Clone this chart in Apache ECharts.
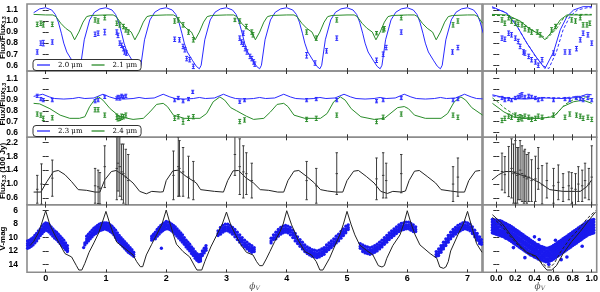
<!DOCTYPE html>
<html><head><meta charset="utf-8">
<script src="https://cdn.jsdelivr.net/npm/echarts@6/dist/echarts.min.js"></script>
<style>html,body{margin:0;padding:0;background:#fff}#c{width:600px;height:292px}</style>
</head><body><div id="c"></div>
<script>
// ---------- tick labels ----------
const xTicksLeft = [0,1,2,3,4,5,6,7];
const xTicksRight = [0,0.2,0.4,0.6,0.8,1.0];
const yTicksFlux = [0.6,0.7,0.8,0.9,1.0,1.1];
const yTicksF33 = [0.6,1.0,1.4,1.8,2.2];
const yTicksV = [6,8,10,12,14];
const legendTop = ['2.0 μm','2.1 μm'];
const legendMid = ['2.3 μm','2.4 μm'];

// ---------- panel 1: models 2.0 / 2.1 um (left, phase) ----------
const model20 = [[-0.2,1.075],[-0.1,1.11],
[0,1.12],[0.1,1.1],[0.16,1.06],[0.21,0.99],[0.26,0.89],[0.3,0.8],[0.35,0.72],[0.44,0.64],[0.5,0.59],[0.55,0.568],[0.58,0.6],[0.64,0.83],[0.73,1.01],[0.81,1.08],[0.9,1.11],
[1,1.12],[1.1,1.1],[1.16,1.06],[1.21,0.99],[1.26,0.89],[1.3,0.8],[1.35,0.72],[1.44,0.64],[1.5,0.59],[1.55,0.568],[1.58,0.6],[1.64,0.83],[1.73,1.01],[1.81,1.08],[1.9,1.11],
[2,1.12],[2.1,1.1],[2.16,1.06],[2.21,0.99],[2.26,0.89],[2.3,0.8],[2.35,0.72],[2.44,0.64],[2.5,0.59],[2.55,0.568],[2.58,0.6],[2.64,0.83],[2.73,1.01],[2.81,1.08],[2.9,1.11],
[3,1.12],[3.1,1.1],[3.16,1.06],[3.21,0.99],[3.26,0.89],[3.3,0.8],[3.35,0.72],[3.44,0.64],[3.5,0.59],[3.55,0.568],[3.58,0.6],[3.64,0.83],[3.73,1.01],[3.81,1.08],[3.9,1.11],
[4,1.12],[4.1,1.1],[4.16,1.06],[4.21,0.99],[4.26,0.89],[4.3,0.8],[4.35,0.72],[4.44,0.64],[4.5,0.59],[4.55,0.568],[4.58,0.6],[4.64,0.83],[4.73,1.01],[4.81,1.08],[4.9,1.11],
[5,1.12],[5.1,1.1],[5.16,1.06],[5.21,0.99],[5.26,0.89],[5.3,0.8],[5.35,0.72],[5.44,0.64],[5.5,0.59],[5.55,0.568],[5.58,0.6],[5.64,0.83],[5.73,1.01],[5.81,1.08],[5.9,1.11],
[6,1.12],[6.1,1.1],[6.16,1.06],[6.21,0.99],[6.26,0.89],[6.3,0.8],[6.35,0.72],[6.44,0.64],[6.5,0.59],[6.55,0.568],[6.58,0.6],[6.64,0.83],[6.73,1.01],[6.81,1.08],[6.9,1.11],
[7,1.12],[7.1,1.1],[7.16,1.06],[7.21,0.99],[7.26,0.89]];
const model21 = [[-0.2,1.06],
[0,1.055],[0.12,1.055],[0.17,1.04],[0.25,0.98],[0.33,0.935],[0.42,0.9],[0.48,0.83],[0.55,0.9],[0.62,0.99],[0.68,1.04],[0.75,1.05],
[1,1.055],[1.12,1.055],[1.17,1.04],[1.25,0.98],[1.33,0.935],[1.42,0.9],[1.48,0.83],[1.55,0.9],[1.62,0.99],[1.68,1.04],[1.75,1.05],
[2,1.055],[2.12,1.055],[2.17,1.04],[2.25,0.98],[2.33,0.935],[2.42,0.9],[2.48,0.83],[2.55,0.9],[2.62,0.99],[2.68,1.04],[2.75,1.05],
[3,1.055],[3.12,1.055],[3.17,1.04],[3.25,0.98],[3.33,0.935],[3.42,0.9],[3.48,0.83],[3.55,0.9],[3.62,0.99],[3.68,1.04],[3.75,1.05],
[4,1.055],[4.12,1.055],[4.17,1.04],[4.25,0.98],[4.33,0.935],[4.42,0.9],[4.48,0.83],[4.55,0.9],[4.62,0.99],[4.68,1.04],[4.75,1.05],
[5,1.055],[5.12,1.055],[5.17,1.04],[5.25,0.98],[5.33,0.935],[5.42,0.9],[5.48,0.83],[5.55,0.9],[5.62,0.99],[5.68,1.04],[5.75,1.05],
[6,1.055],[6.12,1.055],[6.17,1.04],[6.25,0.98],[6.33,0.935],[6.42,0.9],[6.48,0.83],[6.55,0.9],[6.62,0.99],[6.68,1.04],[6.75,1.05],
[7,1.055],[7.12,1.055],[7.17,1.04],[7.25,0.98]];
// observations [phase, ratio, error]
const obs20 = [[-0.14,0.72,0.02],[-0.08,0.8,0.02],[-0.04,0.8,0.025],[0.11,0.81,0.02],
[0.82,0.88,0.02],[0.87,0.89,0.02],[0.98,0.9,0.025],
[1.18,0.9,0.02],[1.2,0.87,0.02],[1.23,0.8,0.02],[1.26,0.78,0.02],[1.29,0.75,0.02],[1.31,0.72,0.02],[1.34,0.71,0.02],
[2.14,0.835,0.02],[2.22,0.83,0.02],[2.28,0.77,0.02],[2.31,0.74,0.02],[2.34,0.66,0.02],[2.39,0.65,0.02],[2.45,0.59,0.02],
[3.22,0.845,0.02],[3.25,0.81,0.02],[3.28,0.79,0.02],[3.28,0.89,0.02],[3.31,0.75,0.02],[3.34,0.72,0.02],[3.39,0.68,0.02],[3.42,0.66,0.02],[3.45,0.63,0.02],[3.47,0.61,0.02],
[4.33,0.69,0.025],[4.47,0.62,0.02],[4.66,0.73,0.02],[4.83,0.845,0.02],
[5.49,0.645,0.02],[5.6,0.7,0.02],[5.65,0.76,0.02],[5.9,0.9,0.02],
[6.75,0.72,0.02],[6.84,0.76,0.02]];
const obs21 = [[-0.14,0.97,0.02],[-0.08,0.98,0.02],[-0.04,0.965,0.02],[0.11,0.97,0.02],
[0.82,1.01,0.02],[0.87,1.0,0.02],[0.98,1.03,0.02],
[1.18,0.98,0.02],[1.23,0.965,0.02],[1.29,0.95,0.02],[1.33,0.92,0.02],[1.37,0.9,0.02],
[2.14,1.0,0.02],[2.2,1.01,0.02],[2.28,0.965,0.02],[2.37,0.9,0.02],[2.45,0.83,0.02],
[3.14,1.01,0.015],[3.22,1.0,0.02],[3.33,0.95,0.02],[3.42,0.9,0.02],[3.44,0.875,0.02],
[4.33,0.9,0.02],[4.49,0.845,0.02],[4.83,1.01,0.02],
[5.49,0.89,0.015],[5.6,0.92,0.02],[5.62,0.93,0.02],[5.9,1.03,0.02],
[6.76,0.965,0.02],[6.84,1.0,0.02]];
// folded (right)
const model20R = [[-0.045,1.13],[0.11,1.07],[0.22,0.95],[0.32,0.8],[0.43,0.66],[0.51,0.57],[0.6,0.72],[0.67,0.92],[0.74,1.04],[0.81,1.1],[0.91,1.13],[1.0,1.13]];
const model20Rd = [[-0.045,1.12],[0.1,1.08],[0.2,0.98],[0.3,0.83],[0.41,0.68],[0.5,0.59],[0.55,0.57],[0.63,0.72],[0.7,0.92],[0.77,1.04],[0.85,1.1],[0.95,1.12],[1.0,1.12]];
const model21R = [[-0.045,1.06],[0.11,1.055],[0.25,1.0],[0.35,0.93],[0.46,0.875],[0.51,0.83],[0.6,0.92],[0.67,1.01],[0.74,1.055],[1.0,1.055]];
const model21Rd = [[-0.045,1.05],[0.12,1.05],[0.26,0.99],[0.37,0.92],[0.47,0.87],[0.53,0.84],[0.63,0.93],[0.7,1.02],[0.77,1.06],[1.0,1.06]];
const obs20R = [[0.06,0.845,0.02],[0.09,0.835,0.02],[0.13,0.89,0.02],[0.16,0.875,0.02],[0.2,0.845,0.02],[0.23,0.815,0.02],[0.25,0.77,0.02],[0.285,0.72,0.02],[0.3,0.71,0.02],[0.34,0.68,0.02],[0.37,0.65,0.02],[0.41,0.63,0.02],[0.44,0.6,0.02],[0.48,0.65,0.02],[0.6,0.71,0.02],[0.72,0.72,0.02],[0.77,0.72,0.02],[0.84,0.75,0.02],[0.88,0.83,0.02],[0.91,0.89,0.02],[0.96,0.875,0.02],[1.0,0.8,0.02]];
const obs21R = [[0.06,1.01,0.02],[0.09,0.98,0.02],[0.13,1.03,0.02],[0.16,1.0,0.02],[0.2,0.98,0.02],[0.23,0.97,0.02],[0.27,0.965,0.02],[0.3,0.93,0.02],[0.34,0.92,0.02],[0.37,0.9,0.02],[0.43,0.9,0.02],[0.46,0.875,0.02],[0.58,0.92,0.02],[0.62,0.95,0.02],[0.79,1.01,0.02],[0.83,1.0,0.02],[0.88,1.03,0.02],[0.91,0.965,0.02],[0.95,0.965,0.02],[0.98,0.98,0.02]];

// ---------- panel 2: models 2.3 / 2.4 um ----------
const model23 = [[-0.2,0.935],
[-0.05,0.955],[0.06,0.93],[0.15,0.915],[0.3,0.91],[0.45,0.915],[0.55,0.925],[0.65,0.915],[0.8,0.92],
[0.95,0.955],[1.06,0.93],[1.15,0.915],[1.3,0.91],[1.45,0.915],[1.55,0.925],[1.65,0.915],[1.8,0.92],
[1.95,0.955],[2.06,0.93],[2.15,0.915],[2.3,0.91],[2.45,0.915],[2.55,0.925],[2.65,0.915],[2.8,0.92],
[2.95,0.955],[3.06,0.93],[3.15,0.915],[3.3,0.91],[3.45,0.915],[3.55,0.925],[3.65,0.915],[3.8,0.92],
[3.95,0.955],[4.06,0.93],[4.15,0.915],[4.3,0.91],[4.45,0.915],[4.55,0.925],[4.65,0.915],[4.8,0.92],
[4.95,0.955],[5.06,0.93],[5.15,0.915],[5.3,0.91],[5.45,0.915],[5.55,0.925],[5.65,0.915],[5.8,0.92],
[5.95,0.955],[6.06,0.93],[6.15,0.915],[6.3,0.91],[6.45,0.915],[6.55,0.925],[6.65,0.915],[6.8,0.92],
[6.95,0.955],[7.06,0.93],[7.15,0.915],[7.25,0.912]];
const model24 = [[-0.2,0.87],[-0.1,0.865],[0.07,0.82],[0.24,0.76],[0.4,0.73],[0.56,0.73],[0.65,0.745],[0.73,0.84],[0.82,0.91],[0.88,0.93],[0.95,0.9],
[1.07,0.82],[1.23,0.745],[1.45,0.72],[1.62,0.73],[1.73,0.79],[1.84,0.86],[1.95,0.87],[2.02,0.84],[2.12,0.76],[2.3,0.73],[2.56,0.73],[2.67,0.775],[2.78,0.885],[2.89,0.93],[2.97,0.9],
[3.07,0.83],[3.17,0.8],[3.33,0.75],[3.45,0.72],[3.62,0.73],[3.73,0.79],[3.84,0.86],[3.95,0.87],[4.02,0.84],[4.12,0.76],[4.3,0.73],[4.56,0.73],[4.67,0.775],[4.78,0.885],[4.89,0.93],[4.97,0.9],
[5.07,0.82],[5.23,0.745],[5.45,0.72],[5.62,0.73],[5.73,0.78],[5.84,0.83],[5.95,0.84],[6.02,0.82],[6.12,0.76],[6.3,0.73],[6.56,0.73],[6.67,0.775],[6.78,0.885],[6.89,0.93],[6.97,0.9],[7.07,0.83],[7.25,0.76]];
const obs23 = [[-0.14,0.94,0.015],[-0.08,0.91,0.015],[-0.04,0.9,0.015],[0.11,0.9,0.015],[0.82,0.89,0.015],[0.87,0.9,0.015],[0.98,0.93,0.015],
[1.18,0.916,0.015],[1.2,0.93,0.015],[1.23,0.92,0.02],[1.26,0.94,0.015],[1.29,0.93,0.015],[1.33,0.94,0.015],
[2.14,0.9,0.015],[2.2,0.92,0.015],[2.28,0.89,0.015],[2.37,0.91,0.015],[2.44,0.977,0.015],
[3.22,0.885,0.015],[3.3,0.9,0.015],[4.33,0.9,0.015],[4.49,0.91,0.015],[4.83,0.9,0.015],[5.49,0.89,0.015],[5.6,0.9,0.015],[5.9,0.92,0.015],[6.76,0.9,0.015],[6.84,0.91,0.015]];
const obs24 = [[-0.14,0.77,0.02],[-0.08,0.76,0.02],[-0.04,0.73,0.02],[0.11,0.735,0.02],[0.82,0.81,0.02],[0.87,0.81,0.02],[0.98,0.76,0.02],
[1.18,0.745,0.025],[1.2,0.73,0.025],[1.23,0.73,0.02],[1.26,0.745,0.025],[1.29,0.745,0.02],[1.33,0.76,0.02],
[2.14,0.73,0.02],[2.2,0.745,0.02],[2.28,0.7,0.025],[2.37,0.73,0.02],[2.45,0.745,0.02],
[3.22,0.7,0.02],[3.3,0.715,0.02],[4.33,0.72,0.02],[4.49,0.73,0.02],[4.83,0.76,0.02],[5.49,0.7,0.02],[5.6,0.74,0.02],[5.9,0.77,0.02],[6.76,0.76,0.02],[6.84,0.74,0.02]];
const model23R = [[-0.04,0.95],[0.05,0.93],[0.15,0.915],[0.3,0.91],[0.5,0.92],[0.7,0.915],[0.85,0.925],[0.95,0.955],[1.0,0.95]];
const model23Rd = [[-0.04,0.94],[0.1,0.92],[0.3,0.915],[0.5,0.925],[0.7,0.92],[0.85,0.935],[1.0,0.94]];
const model24R = [[-0.04,0.87],[0.08,0.79],[0.18,0.745],[0.28,0.73],[0.45,0.73],[0.6,0.745],[0.7,0.84],[0.81,0.885],[0.91,0.9],[1.0,0.87]];
const model24Rd = [[-0.04,0.92],[0.02,0.88],[0.08,0.83],[0.18,0.77],[0.3,0.735],[0.5,0.73],[0.62,0.76],[0.72,0.86],[0.84,0.92],[0.94,0.93],[1.0,0.91]];
const obs23R = [[0.06,0.92,0.015],[0.09,0.9,0.015],[0.13,0.91,0.015],[0.16,0.9,0.015],[0.2,0.92,0.015],[0.23,0.93,0.015],[0.25,0.94,0.02],[0.27,0.95,0.02],[0.3,0.93,0.015],[0.34,0.94,0.015],[0.37,0.93,0.015],[0.41,0.92,0.015],[0.44,0.9,0.015],[0.48,0.91,0.015],[0.6,0.9,0.015],[0.72,0.91,0.015],[0.77,0.9,0.015],[0.84,0.92,0.015],[0.88,0.91,0.015],[0.91,0.9,0.015],[0.96,0.92,0.015],[1.0,0.9,0.015]];
const obs24R = [[0.06,0.71,0.02],[0.09,0.73,0.02],[0.13,0.75,0.02],[0.16,0.74,0.02],[0.2,0.76,0.02],[0.23,0.72,0.02],[0.25,0.74,0.025],[0.27,0.73,0.025],[0.3,0.75,0.02],[0.34,0.74,0.02],[0.37,0.72,0.02],[0.41,0.73,0.02],[0.44,0.75,0.02],[0.48,0.74,0.02],[0.6,0.76,0.02],[0.72,0.74,0.02],[0.77,0.77,0.02],[0.84,0.76,0.02],[0.88,0.75,0.02],[0.91,0.73,0.02],[0.96,0.74,0.02],[1.0,0.72,0.02]];

// ---------- panel 3: flux 3.3 um (100 Jy) ----------
const model33 = [[-0.2,0.77],[-0.08,0.77],[0.02,1.07],[0.13,1.36],[0.21,1.39],[0.32,1.27],[0.43,1.07],[0.54,0.84],[0.68,0.82],[0.82,0.77],[0.9,0.77],
[0.98,1.12],[1.09,1.36],[1.17,1.39],[1.32,1.22],[1.45,1.03],[1.56,0.79],[1.67,0.72],[1.76,0.79],[1.9,0.77],[1.95,0.78],
[2.0,1.1],[2.11,1.38],[2.2,1.4],[2.33,1.22],[2.5,1.03],[2.57,0.84],[2.8,0.79],[2.95,0.77],
[3.02,1.1],[3.11,1.38],[3.2,1.39],[3.33,1.17],[3.45,1.03],[3.56,0.84],[3.7,0.82],[3.85,0.77],[3.95,0.77],
[4.02,1.1],[4.12,1.37],[4.2,1.39],[4.33,1.22],[4.46,1.03],[4.56,0.84],[4.68,0.8],[4.82,0.77],[4.93,0.77],
[5.0,1.1],[5.11,1.37],[5.19,1.39],[5.32,1.22],[5.45,1.03],[5.56,0.79],[5.67,0.73],[5.76,0.79],[5.9,0.77],[5.97,0.8],
[6.03,1.1],[6.12,1.37],[6.2,1.39],[6.33,1.22],[6.47,1.03],[6.56,0.84],[6.72,0.8],[6.85,0.77],[6.95,0.77],
[7.02,1.1],[7.13,1.37],[7.21,1.39]];
const obs33 = [[-0.14,0.85,0.4],[-0.07,1.0,0.58],[0.11,1.17,0.52],[0.82,0.95,0.5],[0.87,0.92,0.48],[0.9,0.88,0.45],[0.98,1.5,0.6],
[1.18,1.45,0.9],[1.2,1.6,0.8],[1.23,1.5,0.85],[1.26,1.35,0.8],[1.29,1.3,0.85],[1.33,1.2,0.8],[1.37,1.1,0.75],
[2.12,1.25,0.7],[2.2,1.5,0.85],[2.22,1.45,0.8],[2.28,1.35,0.7],[2.37,1.2,0.6],[2.45,1.1,0.55],
[3.14,1.85,0.6],[3.22,1.5,0.8],[3.28,1.35,0.75],[3.33,1.3,0.6],[3.42,1.1,0.5],
[4.33,1.1,0.55],[4.49,0.95,0.5],[4.83,1.3,0.6],[5.49,1.15,0.6],[5.6,1.25,0.65],[5.65,1.1,0.5],[5.9,1.3,0.55],[6.76,1.0,0.5],[6.84,1.2,0.55]];
const model33R = [[-0.045,1.12],[0.025,1.27],[0.09,1.36],[0.16,1.36],[0.25,1.27],[0.36,1.17],[0.46,1.03],[0.56,0.84],[0.7,0.79],[0.88,0.79],[0.95,0.93],[1.0,1.12]];
const obs33R = [[0.06,1.36,0.53],[0.09,1.27,0.52],[0.13,1.36,0.72],[0.16,1.45,0.85],[0.18,1.3,0.85],[0.2,1.35,0.9],[0.22,1.25,0.8],[0.23,1.3,0.75],[0.25,1.4,0.85],[0.27,1.3,0.8],[0.29,1.2,0.75],[0.3,1.25,0.75],[0.32,1.15,0.7],[0.34,1.2,0.7],[0.37,1.1,0.6],[0.41,1.15,0.65],[0.44,1.45,0.6],[0.48,0.98,0.55],[0.53,1.1,0.5],[0.6,0.95,0.5],[0.65,1.05,0.5],[0.7,0.9,0.4],[0.76,0.95,0.4],[0.79,0.88,0.45],[0.83,0.85,0.45],[0.86,1.0,0.5],[0.9,0.95,0.45],[0.93,1.1,0.5],[0.97,1.0,0.45],[1.0,1.2,0.9]];

// ---------- panel 4: V magnitude ----------
const modelV = [[-0.26,11.2],[-0.2,10.6],[-0.12,9.3],[-0.07,8.0],[0,6.0],[0.07,8.1],[0.15,9.6],[0.24,11.1],[0.32,12.4],[0.43,12.9],[0.51,14.2],[0.55,14.85],[0.6,14.85],[0.65,13.85],[0.72,12.2],[0.8,10.8],[0.88,9.3],[0.93,8.0],
[1,6.1],[1.07,8.1],[1.12,9.4],[1.18,10.7],[1.31,11.6],[1.45,12.6],[1.51,13.6],[1.57,14.35],[1.61,14.35],[1.67,12.6],[1.76,11.0],[1.84,9.6],[1.93,8.0],
[2,5.9],[2.07,8.1],[2.12,9.6],[2.17,11.0],[2.28,12.1],[2.39,12.9],[2.48,14.4],[2.51,14.85],[2.59,14.85],[2.64,13.6],[2.74,11.4],[2.84,9.6],[2.93,8.0],
[3,6.2],[3.07,8.1],[3.15,9.6],[3.24,11.1],[3.33,12.2],[3.44,12.6],[3.5,13.6],[3.55,14.2],[3.6,14.2],[3.66,13.2],[3.72,12.1],[3.8,10.6],[3.89,9.1],[3.94,8.0],
[4,6.0],[4.08,8.1],[4.19,10.4],[4.3,12.1],[4.41,12.6],[4.49,13.6],[4.55,14.85],[4.6,14.85],[4.63,14.6],[4.71,13.1],[4.8,11.2],[4.88,9.6],[4.94,8.0],
[5,6.1],[5.07,8.1],[5.13,9.6],[5.21,11.1],[5.32,11.9],[5.43,12.6],[5.52,14.2],[5.58,14.4],[5.62,14.2],[5.66,13.1],[5.76,11.2],[5.88,9.6],[5.94,8.0],
[6,6.0],[6.07,8.1],[6.13,9.6],[6.21,11.1],[6.38,12.4],[6.49,13.1],[6.54,14.4],[6.6,14.6],[6.64,14.4],[6.68,13.6],[6.72,12.0],[6.84,9.6],[6.93,8.0],
[7,6.1],[7.07,8.4],[7.15,10.9],[7.24,12.2]];
// rows: [phase, mag, mag, ...]
const obsVRows = [
[-0.3,10.5,10.9,11.2,11.6],[-0.27,10.4,10.8,11.1,11.5],[-0.24,10.2,10.6,11.0,11.3],[-0.21,10.0,10.4,10.7,11.1],[-0.18,9.7,10.1,10.5,10.8],[-0.15,9.4,9.8,10.2,10.5],[-0.12,9.0,9.4,9.8,10.1],[-0.09,8.7,9.0,9.4,9.7],[-0.06,8.3,8.7,9.0,9.4],[-0.03,8.0,8.4,8.7,9.1],[0,7.8,8.2,8.5,8.9],[0.03,7.9,8.3,8.6,9.0],[0.06,8.1,8.5,8.8,9.2],[0.09,8.4,8.8,9.1,9.5],[0.12,8.7,9.1,9.4,9.8],[0.15,9.0,9.4,9.7,10.1],[0.18,9.2,9.6,10.0,10.3],[0.21,9.5,9.9,10.2,10.6],[0.24,9.8,10.2,10.5,10.9],[0.27,10.1,10.5,10.8,11.2],[0.3,10.4,10.8,11.1,11.5],[0.33,10.8,11.2,11.5,11.8],[0.36,11.2,11.6,11.9,12.1],
[0.63,11.5],[0.65,10.8,11.1],[0.68,9.8,10.2,10.5,10.8],[0.71,9.5,9.9,10.2,10.5],[0.74,9.2,9.6,9.9,10.2],[0.77,8.9,9.3,9.6,9.9],[0.8,8.6,9.0,9.3,9.6],[0.83,8.4,8.8,9.1,9.4],[0.86,8.2,8.6,8.9,9.2],[0.89,8.0,8.4,8.7,9.0],[0.92,7.9,8.3,8.6,8.9],[0.95,7.8,8.2,8.5,8.8],[0.98,7.8,8.1,8.4,8.7],[1.01,7.8,8.2,8.5,8.8],[1.04,7.9,8.3,8.6,8.9],[1.07,8.1,8.5,8.8,9.1],[1.1,8.3,8.7,9.0,9.3],[1.13,8.6,9.0,9.3,9.6],[1.16,8.9,9.3,9.7,10.0],[1.19,9.3,9.7,10.1,10.4],[1.22,9.7,10.1,10.4,10.7],[1.25,10.0,10.4,10.7,11.0],[1.28,10.3,10.7,11.0,11.3],[1.31,10.6,11.0,11.3,11.6],[1.34,10.9,11.3,11.6,11.9],[1.37,11.2,11.6,11.9,12.2],[1.4,11.5,11.9,12.1,12.4],[1.43,11.8,12.1,12.3,12.6],[1.46,12.2,12.5,12.8],
[1.76,9.8,10.1,10.4],[1.79,9.5,9.8,10.2],[1.82,9.2,9.6,9.9,10.2],[1.85,8.8,9.2,9.5,9.8],[1.88,8.5,8.9,9.2,9.5],[1.91,8.2,8.6,8.9,9.2],[1.92,11.6],[1.94,8.0,8.4,8.7,9.0],[1.97,7.8,8.2,8.5,8.8],[2.0,7.6,8.0,8.3,8.7],[2.03,7.7,8.1,8.4,8.7],[2.06,7.8,8.2,8.5,8.8],[2.09,8.0,8.4,8.7,9.0],[2.12,8.2,8.6,8.9,9.2],[2.15,8.4,8.8,9.1,9.5],[2.18,8.7,9.1,9.4,9.8],[2.21,9.0,9.4,9.7,10.1],[2.24,9.3,9.7,10.0,10.4],[2.27,9.6,10.0,10.3,10.7],[2.3,10.0,10.4,10.7,11.0],[2.33,10.4,10.8,11.1,11.4],[2.36,10.7,11.1,11.4,11.7],[2.39,11.0,11.4,11.7,12.0],[2.42,11.4,11.8,12.1,12.4],[2.45,11.7,12.1,12.4,12.7],[2.48,12.1,12.5,12.8,13.1],[2.51,12.4,12.8,13.1,13.4],[2.54,12.6,13.0,13.3,13.6],[2.57,12.5,12.9,13.2,13.5],[2.6,12.0,12.4,12.7],[2.63,11.6,12.0,12.3],[2.66,11.2,11.6,11.9],
[2.86,9.0,9.4,9.7],[2.9,8.5,8.9,9.2,9.5],[2.94,8.2,8.6,8.9,9.2],[2.98,8.0,8.4,8.7,9.0],[3.02,8.0,8.4,8.7,9.0],[3.06,8.2,8.6,8.9,9.2],[3.1,8.5,8.9,9.2,9.5],[3.14,8.8,9.2,9.5,9.9],[3.18,9.2,9.6,9.9,10.3],[3.22,9.6,10.0,10.3,10.7],[3.26,10.0,10.4,10.7,11.1],[3.3,10.4,10.8,11.1,11.4],[3.34,10.7,11.1,11.4,11.7],[3.38,11.0,11.4,11.7,12.0],[3.42,11.2,11.6,11.9,12.2],[3.46,11.5,11.8,12.1],
[3.74,10.1,10.5,10.8],[3.78,9.6,10.0,10.3],[3.82,9.2,9.6,9.9,10.2],[3.86,8.8,9.2,9.5,9.8],[3.9,8.5,8.9,9.2,9.5],[3.94,8.3,8.7,9.0,9.3],[3.98,8.2,8.6,8.9,9.2],[4.02,8.3,8.7,9.0,9.3],[4.06,8.5,8.9,9.2,9.6],[4.1,8.9,9.3,9.6,10.0],[4.14,9.4,9.8,10.1,10.5],[4.18,9.9,10.3,10.6,10.9],[4.22,10.3,10.7,11.0,11.3],[4.26,10.7,11.1,11.4,11.7],[4.3,11.1,11.5,11.8,12.1],[4.34,11.4,11.8,12.1,12.4],[4.38,11.6,12.0,12.3,12.6],[4.42,11.8,12.2,12.5,12.8],[4.46,11.9,12.3,12.6,12.9],[4.5,12.0,12.4,12.7,13.0],[4.54,11.9,12.3,12.6,12.9],[4.58,11.7,12.1,12.4,12.7],[4.62,11.5,11.9,12.2,12.5],[4.66,11.1,11.5,11.8,12.1],[4.7,10.8,11.2,11.5,11.8],[4.74,10.5,10.9,11.2,11.5],[4.78,10.2,10.6,10.9,11.2],[4.82,9.8,10.2,10.5,10.8],[4.86,9.5,9.9,10.2,10.5],[4.9,9.1,9.5,9.8,10.1],[4.94,8.7,9.1,9.4,9.7],[4.98,8.3,8.7,9.0,9.3],[5.02,8.1,8.5,8.8],
[5.22,10.9,11.3,11.6],[5.26,11.1,11.5,11.8,12.1],[5.3,11.3,11.7,12.0,12.3],[5.34,11.4,11.8,12.1,12.4],[5.38,11.5,11.9,12.2,12.5],[5.42,11.4,11.8,12.1,12.4],[5.46,11.2,11.6,11.9,12.2],[5.5,11.0,11.4,11.7,12.0],[5.54,10.7,11.1,11.4,11.7],[5.58,10.4,10.8,11.1,11.4],[5.62,10.0,10.4,10.7,11.0],[5.66,9.7,10.1,10.4,10.7],[5.7,9.3,9.7,10.0,10.3],[5.74,9.0,9.4,9.7,10.0],[5.78,8.7,9.1,9.4,9.7],[5.82,8.4,8.8,9.1,9.4],[5.86,8.1,8.5,8.8,9.1],[5.9,7.9,8.3,8.6,8.9],[5.94,7.8,8.2,8.5,8.8],[5.98,7.7,8.1,8.4,8.7],[6.02,7.7,8.1,8.4,8.7],[6.06,7.9,8.3,8.6,8.9],[6.1,8.1,8.5,8.8,9.1],[6.14,8.4,8.8,9.1],
[6.48,12.1,12.5,12.8],[6.52,11.7,12.1,12.4,12.7],[6.56,11.2,11.6,11.9,12.2],[6.6,10.7,11.1,11.4,11.7],[6.64,10.2,10.6,10.9,11.2],[6.68,9.7,10.1,10.4,10.7],[6.72,9.2,9.6,9.9,10.2],[6.76,8.8,9.2,9.5,9.8],[6.8,8.5,8.9,9.2,9.5],[6.84,8.2,8.6,8.9,9.2],[6.88,8.0,8.4,8.7,9.0],[6.92,7.8,8.2,8.5,8.8],[6.96,7.7,8.1,8.4,8.7],[7.0,7.8,8.2,8.5,8.8],[7.04,8.0,8.4,8.7,9.0],[7.08,8.4,8.8,9.1,9.4],[7.12,8.9,9.3,9.6,9.9],[7.16,9.4,9.8,10.1,10.4],[7.2,9.9,10.3,10.6,10.9],[7.23,10.3,10.7,11.0]];
const modelVR = [[-0.04,6.6],[0.06,7.9],[0.15,9.6],[0.24,11.1],[0.32,12.2],[0.42,12.8],[0.49,14.2],[0.53,14.85],[0.58,14.85],[0.63,14.2],[0.7,12.4],[0.79,10.6],[0.88,9.1],[0.96,7.6],[1.04,6.2]];
const modelVRd = [[-0.04,7.0],[0.06,8.3],[0.15,9.9],[0.24,11.3],[0.32,12.3],[0.42,12.9],[0.48,13.8],[0.53,14.4],[0.57,14.4],[0.61,13.8],[0.68,12.0],[0.77,10.2],[0.86,8.8],[0.95,7.2],[1.04,6.0]];
const obsVRRows = [
[-0.04,7.3,7.7,8.1,8.5,8.9,9.3],[-0.02,7.4,7.8,8.2,8.6,9.0,9.4],[0.0,7.4,7.8,8.3,8.7,9.1,9.5],[0.02,7.5,7.9,8.4,8.8,9.2,9.6],[0.04,7.5,8.0,8.4,8.9,9.3,9.7],[0.06,7.6,8.1,8.5,9.0,9.4,9.8],[0.08,7.8,8.2,8.7,9.1,9.5,9.9],[0.1,7.9,8.4,8.8,9.3,9.7,10.1],[0.12,8.1,8.5,9.0,9.4,9.8,10.2],[0.14,8.2,8.7,9.1,9.6,10.0,10.4],[0.16,8.4,8.8,9.3,9.7,10.2,10.6],[0.18,8.6,9.0,9.5,9.9,10.4,10.8],[0.2,8.8,9.2,9.7,10.1,10.6,11.0],[0.22,9.0,9.4,9.9,10.3,10.8,11.2],[0.24,9.2,9.6,10.1,10.5,11.0,11.4],[0.26,9.4,9.8,10.3,10.7,11.2,11.6],[0.28,9.6,10.0,10.5,10.9,11.4,11.8],[0.3,9.8,10.2,10.7,11.1,11.6,12.0],[0.32,10.0,10.4,10.9,11.3,11.8,12.2],[0.34,10.2,10.6,11.1,11.5,12.0,12.4],[0.36,10.4,10.8,11.3,11.7,12.2,12.6],[0.38,10.6,11.0,11.5,11.9,12.4,12.7],[0.4,10.8,11.2,11.7,12.1,12.5,12.9],[0.42,11.0,11.4,11.8,12.2,12.7,13.0],[0.44,11.1,11.5,12.0,12.4,12.8,13.2],[0.46,11.3,11.7,12.1,12.5,12.9,13.3],[0.48,11.4,11.8,12.2,12.6,13.0,13.4],[0.5,11.5,11.9,12.3,12.7,13.1,13.5],[0.52,11.6,12.0,12.4,12.8,13.2,13.6],[0.54,11.6,12.0,12.4,12.8,13.2,13.6],[0.56,11.5,11.9,12.3,12.7,13.1,13.5],[0.58,11.4,11.8,12.2,12.6,13.0,13.4],[0.6,11.2,11.6,12.0,12.4,12.8,13.2],[0.62,11.0,11.4,11.8,12.2,12.6,13.0],[0.64,10.8,11.2,11.6,12.0,12.4,12.8],[0.66,10.6,11.0,11.4,11.8,12.2,12.6],[0.68,10.4,10.8,11.2,11.6,12.0,12.4],[0.7,10.2,10.6,11.0,11.4,11.8,12.2],[0.72,10.0,10.4,10.8,11.2,11.6,12.0],[0.74,9.8,10.2,10.6,11.0,11.4,11.8],[0.76,9.6,10.0,10.4,10.8,11.2,11.6],[0.78,9.4,9.8,10.2,10.6,11.0,11.4],[0.8,9.2,9.6,10.0,10.4,10.8,11.2],[0.82,9.0,9.4,9.8,10.2,10.6,11.0],[0.84,8.8,9.2,9.6,10.0,10.4,10.8],[0.86,8.6,9.0,9.4,9.8,10.2,10.6],[0.88,8.4,8.8,9.2,9.6,10.0,10.4],[0.9,8.2,8.6,9.0,9.4,9.8,10.2],[0.92,8.0,8.4,8.8,9.2,9.6,10.0],[0.94,7.8,8.2,8.6,9.0,9.4,9.8],[0.96,7.6,8.0,8.4,8.8,9.2,9.6],[0.98,7.5,7.9,8.3,8.7,9.1,9.5],[1.0,7.4,7.8,8.2,8.6,9.0,9.4],[1.02,7.3,7.7,8.1,8.5,8.9,9.3],
[0.3,13.0],[0.45,10.3],[0.62,10.4],[0.74,12.9],[0.9,11.3],[0.18,11.5],[0.55,14.0],[0.68,13.3],[0.4,9.9]];

// ---------- build ----------
const FONT = 'Liberation Sans';
const C_BLUE = '#2a2aff', C_GREEN = '#2a8c2a', C_BLK = '#222', C_PT = '#1a1aee';
const colL = {left:27, width:455, min:-0.31, max:7.24, ticks:xTicksLeft};
const colR = {left:483, width:113.7, min:-0.139, max:1.052, ticks:xTicksRight};
const rows = [
  {top:4, h:67, min:0.548, max:1.154, ticks:yTicksFlux, fmt:v=>v.toFixed(1), name:'{t|Flux/Flux}{s|3.3}'},
  {top:71, h:66.3, min:0.553, max:1.172, ticks:yTicksFlux, fmt:v=>v.toFixed(1), name:'{t|Flux/Flux}{s|3.3}'},
  {top:137.3, h:67.4, min:0.407, max:2.344, ticks:yTicksF33, fmt:v=>v.toFixed(1), name:'{t|Flux}{s|3.3}{t| (100 Jy)}'},
  {top:204.7, h:67.6, min:5.1, max:15.19, ticks:yTicksV, fmt:v=>String(v), name:'{t|V-mag}', inverse:true}
];
const grids=[], xAxes=[], yAxes=[], xTop=[], yRight=[];
const tickStyle = {show:true, inside:true, length:3, lineStyle:{color:'#333', width:1}};
rows.forEach((r,ri)=>{
  [colL,colR].forEach((c,ci)=>{
    const gi = ri*2+ci;
    grids.push({left:c.left, top:r.top, width:c.width, height:r.h, containLabel:false, outerBoundsMode:'none',
      show:true, borderColor:'#8c8c8c', borderWidth:1.6, backgroundColor:'rgba(0,0,0,0)'});
    const bottomRow = ri===3;
    xAxes.push({type:'value', gridIndex:gi, min:c.min, max:c.max, position:'bottom',
      axisLine:{show:false}, splitLine:{show:false},
      axisTick:Object.assign({customValues:c.ticks}, tickStyle),
      axisLabel:{show:bottomRow, customValues:c.ticks, margin:2, fontFamily:FONT, fontWeight:'bold', fontSize:9, color:'#000',
        formatter: ci===0 ? (v=>String(Math.round(v))) : (v=>v.toFixed(1))},
      name: bottomRow ? '{p|ϕ}{v|V}' : '', nameLocation:'middle', nameGap:9, nameMoveOverlap:false,
      nameTextStyle:{rich:{p:{fontSize:9, fontFamily:'DejaVu Serif', fontStyle:'italic', color:'#555'}, v:{fontSize:6, fontFamily:'DejaVu Serif', fontStyle:'italic', color:'#555', verticalAlign:'bottom', padding:[4,0,0,0]}}}
    });
    xTop.push({type:'value', gridIndex:gi, min:c.min, max:c.max, position:'top',
      axisLine:{show:false}, splitLine:{show:false}, axisLabel:{show:false},
      axisTick:Object.assign({customValues:c.ticks}, tickStyle)});
    yAxes.push({type:'value', gridIndex:gi, min:r.min, max:r.max, inverse:!!r.inverse, position:'left',
      axisLine:{show:false}, splitLine:{show:false},
      axisTick:Object.assign({customValues:r.ticks}, tickStyle),
      axisLabel:{show:ci===0, customValues:r.ticks, margin:9, formatter:r.fmt, fontFamily:FONT, fontWeight:'bold', fontSize:8.5, color:'#000'},
      name: ci===0 ? r.name : '', nameLocation:'middle', nameGap:19.5, nameMoveOverlap:false,
      nameTextStyle:{rich:{t:{fontSize:8, fontFamily:FONT, fontWeight:'bold', color:'#000', lineHeight:9},
                           s:{fontSize:5.5, fontFamily:FONT, fontWeight:'bold', color:'#000', verticalAlign:'bottom', lineHeight:9, padding:[3,0,0,0]}}}
    });
    yRight.push({type:'value', gridIndex:gi, min:r.min, max:r.max, inverse:!!r.inverse, position:'right',
      axisLine:{show:false}, splitLine:{show:false}, axisLabel:{show:false},
      axisTick:Object.assign({customValues:r.ticks}, tickStyle)});
  });
});

function line(name, data, color, gi, dashed, w) {
  return {type:'line', name, data, xAxisIndex:gi, yAxisIndex:gi, showSymbol:false, symbol:'none', clip:true, z:2,
    lineStyle:{color, width:w||1, type: dashed ? [3,2] : 'solid'}, itemStyle:{color}, silent:true};
}
function errs(name, data, color, gi, w, cap) {
  return {type:'custom', name, data, xAxisIndex:gi, yAxisIndex:gi, clip:true, z:3, silent:true,
    encode:{x:0, y:1},
    renderItem:function(params, api){
      const x=api.value(0), y=api.value(1), e=api.value(2);
      const a=api.coord([x,y-e]), b=api.coord([x,y+e]), c=api.coord([x,y]);
      const st={stroke:color, lineWidth:w||1};
      const k = cap==null ? 1.5 : cap;
      return {type:'group', children:[
        {type:'line', shape:{x1:a[0],y1:a[1],x2:b[0],y2:b[1]}, style:st},
        {type:'line', shape:{x1:a[0]-k,y1:a[1],x2:a[0]+k,y2:a[1]}, style:st},
        {type:'line', shape:{x1:b[0]-k,y1:b[1],x2:b[0]+k,y2:b[1]}, style:st},
        {type:'line', shape:{x1:c[0]-1.2,y1:c[1],x2:c[0]+1.2,y2:c[1]}, style:st}
      ]};
    }};
}
function flatten(rowsArr){ const out=[]; rowsArr.forEach(r=>{ for(let i=1;i<r.length;i++) out.push([r[0], r[i]]); }); return out; }
function scatter(name, data, gi, size) {
  return {type:'scatter', name, data, xAxisIndex:gi, yAxisIndex:gi, symbolSize:size, clip:true, z:1, silent:true,
    itemStyle:{color:C_PT, opacity:1}};
}

const series = [
  line('2.0 μm', model20, C_BLUE, 0), line('2.1 μm', model21, C_GREEN, 0),
  errs('o20', obs20, C_BLUE, 0), errs('o21', obs21, C_GREEN, 0),
  line('r20', model20R, C_BLUE, 1), line('r20d', model20Rd, C_BLUE, 1, true),
  line('r21', model21R, C_GREEN, 1), line('r21d', model21Rd, C_GREEN, 1, true),
  errs('ro20', obs20R, C_BLUE, 1), errs('ro21', obs21R, C_GREEN, 1),

  line('2.3 μm', model23, C_BLUE, 2), line('2.4 μm', model24, C_GREEN, 2),
  errs('o23', obs23, C_BLUE, 2), errs('o24', obs24, C_GREEN, 2),
  line('r23', model23R, C_BLUE, 3), line('r23d', model23Rd, C_BLUE, 3, true),
  line('r24', model24R, C_GREEN, 3), line('r24d', model24Rd, C_GREEN, 3, true),
  errs('ro23', obs23R, C_BLUE, 3), errs('ro24', obs24R, C_GREEN, 3),

  line('m33', model33, C_BLK, 4), errs('o33', obs33, '#3a3a3a', 4, 1, 1.2),
  line('r33', model33R, C_BLK, 5), errs('ro33', obs33R, '#3a3a3a', 5, 1, 1.2),

  scatter('oV', flatten(obsVRows), 6, 3.3), line('mV', modelV, C_BLK, 6),
  scatter('roV', flatten(obsVRRows), 7, 3.6), line('rV', modelVR, C_BLK, 7), line('rVd', modelVRd, C_BLK, 7, true)
];

const legStyle = {orient:'horizontal', icon:'rect', itemWidth:13, itemHeight:1.3, itemGap:9, padding:[2,4,2,4],
  borderColor:'#000', borderWidth:0.8, borderRadius:3, backgroundColor:'#fff', selectedMode:false, z:10,
  textStyle:{fontSize:7, fontFamily:'DejaVu Serif', color:'#000', lineHeight:7, padding:[0,0,0,3]}};
const option = {
  animation:false,
  grid:grids,
  xAxis: xAxes.concat(xTop),
  yAxis: yAxes.concat(yRight),
  legend:[
    Object.assign({data:legendTop, left:33, top:59.5}, legStyle),
    Object.assign({data:legendMid, left:33, top:125.5}, legStyle)
  ],
  series
};
const chart = echarts.init(document.getElementById('c'), null, {renderer:'canvas'});
chart.setOption(option);
</script></body></html>
